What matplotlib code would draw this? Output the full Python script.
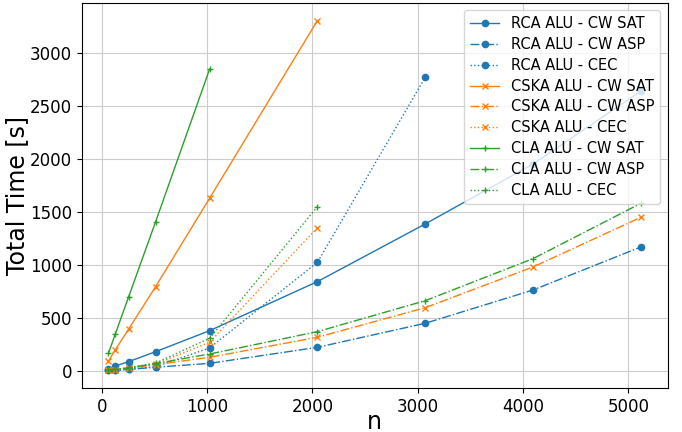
import matplotlib
matplotlib.use("Agg")
import matplotlib.pyplot as plt

n_all = [64, 128, 256, 512, 1024, 2048, 3072, 4096, 5120]
n_cec_rca = [64, 128, 256, 512, 1024, 2048, 3072]
n_cec = [64, 128, 256, 512, 1024, 2048]
n_cska_sat = [64, 128, 256, 512, 1024, 2048]
n_cla_sat = [64, 128, 256, 512, 1024]

rca_sat = [20, 47, 88, 182, 380, 843, 1387, 1953, 2641]
rca_asp = [5, 8, 15, 35, 72, 223, 450, 764, 1170]
rca_cec = [5, 8, 15, 40, 217, 1025, 2771]
cska_sat = [94, 198, 396, 796, 1629, 3305]
cska_asp = [8, 12, 25, 60, 129, 318, 597, 981, 1450]
cska_cec = [8, 12, 25, 65, 270, 1352]
cla_sat = [167, 346, 701, 1408, 2846]
cla_asp = [10, 15, 30, 70, 160, 371, 663, 1060, 1582]
cla_cec = [10, 15, 30, 75, 308, 1550]

fig = plt.figure(figsize=(6.82, 4.32), dpi=100)
ax = fig.add_axes([0.12, 0.102, 0.859, 0.891])

c1, c2, c3 = "#1f77b4", "#ff7f0e", "#2ca02c"
lw = 1.0
ax.plot(n_all, rca_sat, color=c1, marker="o", ms=4.5, lw=lw, ls="-", label="RCA ALU - CW SAT")
ax.plot(n_all, rca_asp, color=c1, marker="o", ms=4.5, lw=lw, ls="-.", label="RCA ALU - CW ASP")
ax.plot(n_cec_rca, rca_cec, color=c1, marker="o", ms=4.5, lw=lw, ls=":", label="RCA ALU - CEC")
ax.plot(n_cska_sat, cska_sat, color=c2, marker="x", ms=4.5, lw=lw, ls="-", label="CSKA ALU - CW SAT")
ax.plot(n_all, cska_asp, color=c2, marker="x", ms=4.5, lw=lw, ls="-.", label="CSKA ALU - CW ASP")
ax.plot(n_cec, cska_cec, color=c2, marker="x", ms=4.5, lw=lw, ls=":", label="CSKA ALU - CEC")
ax.plot(n_cla_sat, cla_sat, color=c3, marker="+", ms=4.5, lw=lw, ls="-", label="CLA ALU - CW SAT")
ax.plot(n_all, cla_asp, color=c3, marker="+", ms=4.5, lw=lw, ls="-.", label="CLA ALU - CW ASP")
ax.plot(n_cec, cla_cec, color=c3, marker="+", ms=4.5, lw=lw, ls=":", label="CLA ALU - CEC")

ax.grid(True, color="#cccccc", lw=0.8)
ax.set_xlabel("n", fontsize=17, labelpad=-4)
ax.set_ylabel("Total Time [s]", fontsize=17, labelpad=1)
ax.tick_params(labelsize=12)
ax.legend(loc="upper right", fontsize=10.5, labelspacing=0.4, handlelength=2.0)

fig.savefig("out.png", dpi=100)
